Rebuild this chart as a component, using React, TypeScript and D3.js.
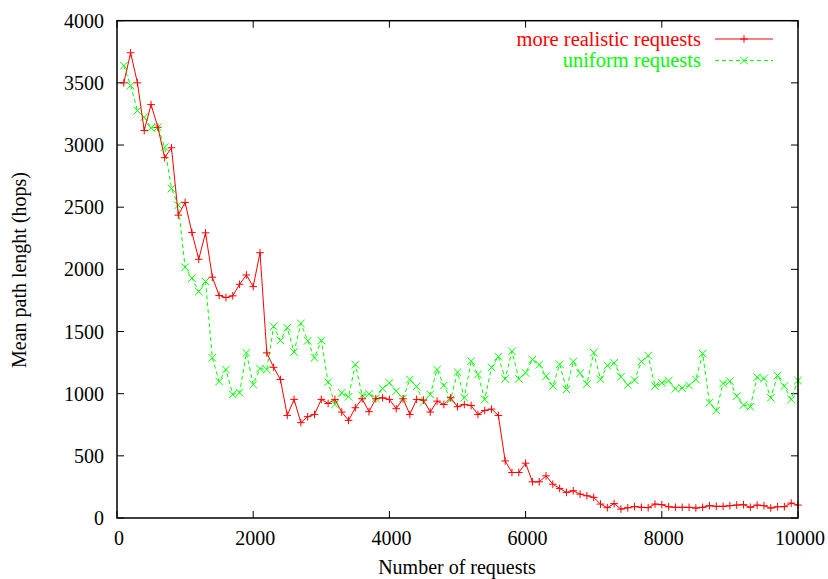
import React from "react";
import * as d3 from "d3";

const requestCounts: number[] = Array.from({ length: 100 }, (_, i) => (i + 1) * 100);

const realisticValues: number[] = [
  3500, 3742, 3500, 3117, 3325, 3143, 2898, 2978, 2436, 2538,
  2297, 2081, 2294, 1937, 1790, 1773, 1787, 1880, 1955, 1861,
  2134, 1328, 1212, 1114, 825, 954, 767, 815, 833, 954,
  921, 954, 852, 785, 887, 959, 855, 959, 967, 954,
  879, 959, 833, 954, 948, 852, 940, 913, 967, 895,
  913, 905, 833, 865, 876, 825, 459, 366, 366, 441,
  291, 291, 339, 272, 238, 206, 219, 192, 179, 166,
  112, 83, 116, 72, 82, 92, 86, 83, 112, 107,
  90, 86, 86, 86, 80, 86, 99, 94, 94, 99,
  104, 107, 86, 104, 99, 80, 91, 91, 120, 104,
];

const uniformValues: number[] = [
  3638, 3478, 3277, 3224, 3138, 3143, 2983, 2650, 2516, 2017,
  1929, 1822, 1902, 1288, 1098, 1194, 994, 1007, 1328, 1074,
  1202, 1194, 1541, 1428, 1530, 1335, 1565, 1425, 1288, 1428,
  1092, 913, 1007, 975, 1234, 986, 999, 962, 1042, 1087,
  1020, 962, 1114, 1058, 932, 994, 1194, 1066, 954, 1173,
  967, 1261, 1154, 954, 1212, 1298, 1119, 1341, 1119, 1167,
  1274, 1234, 1140, 1061, 1237, 1034, 1258, 1163, 1078, 1330,
  1116, 1226, 1248, 1136, 1070, 1109, 1258, 1306, 1061, 1087,
  1104, 1039, 1045, 1066, 1114, 1322, 927, 865, 1082, 1100,
  980, 908, 895, 1132, 1122, 967, 1146, 1061, 954, 1106,
];

const xTicks: number[] = [0, 2000, 4000, 6000, 8000, 10000];
const yTicks: number[] = [0, 500, 1000, 1500, 2000, 2500, 3000, 3500, 4000];

const seriesNames: string[] = ["more realistic requests", "uniform requests"];

export default function App() {
  const W = 828, H = 579;
  const left = 117, right = 798, top = 20.7, bottom = 518;
  const x = d3.scaleLinear().domain([0, 10000]).range([left, right]);
  const y = d3.scaleLinear().domain([0, 4000]).range([bottom, top]);
  const font = "'Liberation Serif', 'Times New Roman', serif";
  const tickLen = 7;

  const line = d3
    .line<[number, number]>()
    .x((d) => x(d[0]))
    .y((d) => y(d[1]));

  const redPts: [number, number][] = requestCounts.map((c, i) => [c, realisticValues[i]]);
  const greenPts: [number, number][] = requestCounts.map((c, i) => [c, uniformValues[i]]);
  const ms = 3.8;

  const plus = (cx: number, cy: number, k: string) => (
    <path key={k} d={`M${cx - ms},${cy}H${cx + ms}M${cx},${cy - ms}V${cy + ms}`} stroke="#ff0000" strokeWidth={1} fill="none" />
  );
  const cross = (cx: number, cy: number, k: string) => (
    <path key={k} d={`M${cx - ms},${cy - ms}L${cx + ms},${cy + ms}M${cx - ms},${cy + ms}L${cx + ms},${cy - ms}`} stroke="#00ff00" strokeWidth={1} fill="none" />
  );

  return (
    <svg width={W} height={H} style={{ position: "absolute", left: 0, top: 0, background: "#fff" }}>
      <rect x={0} y={0} width={W} height={H} fill="#fff" />
      {xTicks.map((t) => (
        <g key={"xt" + t}>
          <line x1={x(t)} x2={x(t)} y1={bottom} y2={bottom - tickLen} stroke="#000" strokeWidth={1} />
          <line x1={x(t)} x2={x(t)} y1={top} y2={top + tickLen} stroke="#000" strokeWidth={1} />
          <text x={x(t) + 2} y={545} fontFamily={font} fontSize={20} textAnchor="middle" fill="#000">{t}</text>
        </g>
      ))}
      {yTicks.map((t) => (
        <g key={"yt" + t}>
          <line x1={left} x2={left + tickLen} y1={y(t)} y2={y(t)} stroke="#000" strokeWidth={1} />
          <line x1={right} x2={right - tickLen} y1={y(t)} y2={y(t)} stroke="#000" strokeWidth={1} />
          <text x={104} y={y(t) + 7} fontFamily={font} fontSize={20} textAnchor="end" fill="#000">{t}</text>
        </g>
      ))}
      <path d={line(greenPts) || ""} stroke="#00ff00" strokeWidth={1} fill="none" strokeDasharray="4,3" />
      {greenPts.map((p, i) => cross(x(p[0]), y(p[1]), "g" + i))}
      <path d={line(redPts) || ""} stroke="#ff0000" strokeWidth={1} fill="none" />
      {redPts.map((p, i) => plus(x(p[0]), y(p[1]), "r" + i))}
      <rect x={left} y={top} width={right - left} height={bottom - top} fill="none" stroke="#000" strokeWidth={1.5} />
      <text x={701} y={46} fontFamily={font} fontSize={20.5} textAnchor="end" fill="#ff0000">{seriesNames[0]}</text>
      <line x1={715} x2={773} y1={39} y2={39} stroke="#ff0000" strokeWidth={1} />
      {plus(744, 39, "lr")}
      <text x={701} y={67} fontFamily={font} fontSize={20.5} textAnchor="end" fill="#00ff00">{seriesNames[1]}</text>
      <line x1={715} x2={773} y1={60.5} y2={60.5} stroke="#00ff00" strokeWidth={1} strokeDasharray="4,3" />
      {cross(744, 60.5, "lg")}
      <text x={457} y={574} fontFamily={font} fontSize={20} textAnchor="middle" fill="#000">Number of requests</text>
      <text transform="translate(26,270) rotate(-90)" fontFamily={font} fontSize={20} textAnchor="middle" fill="#000">Mean path lenght (hops)</text>
    </svg>
  );
}
